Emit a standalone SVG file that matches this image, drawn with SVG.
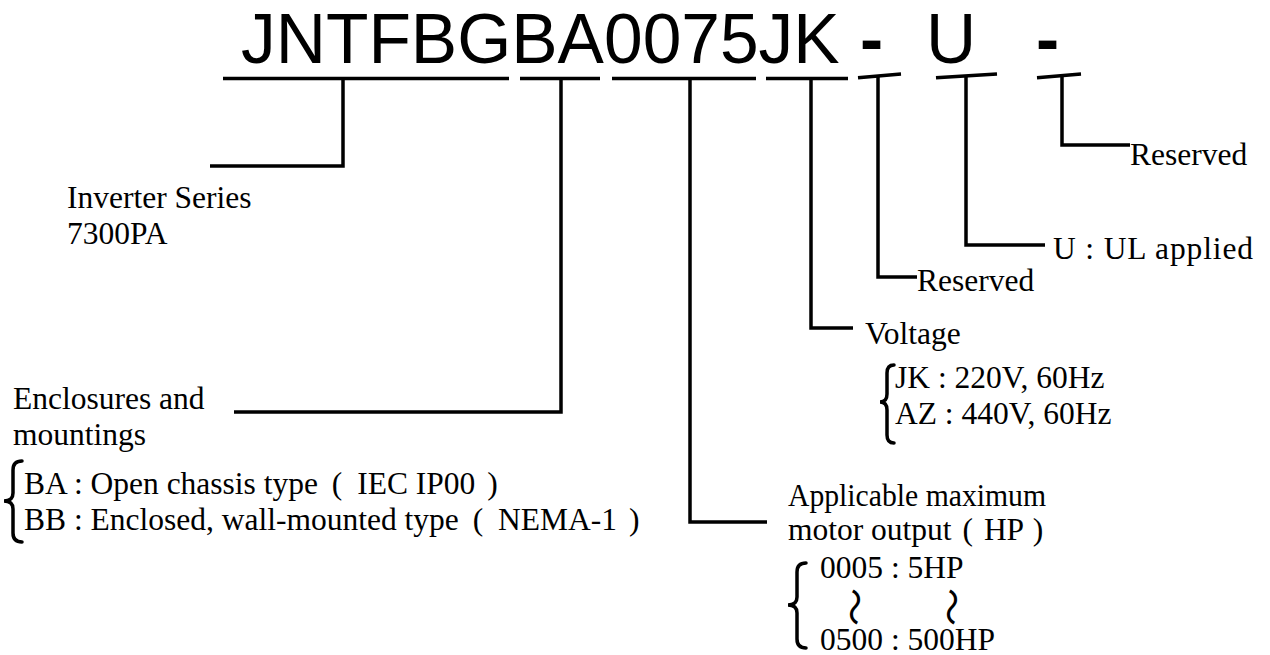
<svg xmlns="http://www.w3.org/2000/svg" width="1270" height="655" viewBox="0 0 1270 655">
<style>
.title{font-family:"Liberation Sans",Arial,sans-serif;font-size:69.5px;fill:#000}
.lbl{font-family:"Liberation Serif","Times New Roman",serif;font-size:31.5px;fill:#000}
.ln{fill:none;stroke:#000;stroke-width:3.5;stroke-linejoin:miter;stroke-linecap:butt}
.br{fill:none;stroke:#000;stroke-width:3.5;stroke-linecap:round}
.wave{font-family:"Noto Sans CJK JP","DejaVu Sans",sans-serif;font-size:38px;fill:#000}
</style>
<rect width="1270" height="655" fill="#fff"/>
<g id="code">
<text class="title" x="241" y="63">JNTFBGBA0075JK</text>
<text class="title" x="860" y="63" font-weight="bold">-</text>
<text class="title" x="926" y="63">U</text>
<text class="title" x="1036" y="63" font-weight="bold">-</text>
</g>
<g id="connectors">
<line class="ln" x1="223" y1="78.5" x2="509" y2="78.5"/>
<line class="ln" x1="520" y1="78.5" x2="600" y2="78.5"/>
<line class="ln" x1="612" y1="78.5" x2="756" y2="78.5"/>
<line class="ln" x1="766" y1="78.5" x2="848" y2="78.5"/>
<line class="ln" x1="858" y1="77.7" x2="901" y2="74"/>
<line class="ln" x1="936" y1="77.7" x2="997" y2="74"/>
<line class="ln" x1="1037" y1="77.7" x2="1081" y2="74"/>
<polyline class="ln" points="343,78.5 343,166 210,166"/>
<polyline class="ln" points="561,78.5 561,412 234,412"/>
<polyline class="ln" points="690,78.5 690,522 767,522"/>
<polyline class="ln" points="811,78.5 811,328 853,328"/>
<polyline class="ln" points="878,76 878,277 917,277"/>
<polyline class="ln" points="966,76 966,245 1045,245"/>
<polyline class="ln" points="1062,75.6 1062,145 1130,145"/>
</g>
<g id="series">
<text class="lbl" x="67" y="208">Inverter Series</text>
<text class="lbl" x="67" y="244">7300PA</text>
</g>
<g id="enclosure">
<text class="lbl" x="13" y="409">Enclosures and</text>
<text class="lbl" x="13" y="445">mountings</text>
<path class="br" d="M22,461 Q13,461 13,470 L13,493 Q13,501 4,501 Q13,501 13,509 L13,533 Q13,542 22,542"/>
<text class="lbl" x="24" y="494">BA : Open chassis type <tspan dx="6">(</tspan> <tspan dx="7">IEC IP00</tspan> <tspan dx="4">)</tspan></text>
<text class="lbl" x="24" y="530">BB : Enclosed, wall-mounted type <tspan dx="6">(</tspan> <tspan dx="7">NEMA-1</tspan> <tspan dx="4">)</tspan></text>
</g>
<g id="output">
<text class="lbl" x="788" y="506" textLength="258" lengthAdjust="spacingAndGlyphs">Applicable maximum</text>
<text class="lbl" x="788" y="540">motor output <tspan dx="3">(</tspan> <tspan dx="3">HP</tspan> <tspan dx="2">)</tspan></text>
<path class="br" d="M806,563 Q797,563 797,572 L797,597 Q797,605 788,605 Q797,605 797,613 L797,639 Q797,648 806,648"/>
<text class="lbl" x="820" y="578">0005 : 5HP</text>
<text class="wave" transform="translate(841,588) rotate(90)">〜</text>
<text class="wave" transform="translate(938,588) rotate(90)">〜</text>
<text class="lbl" x="820" y="650">0500 : 500HP</text>
</g>
<g id="voltage">
<text class="lbl" x="865" y="344">Voltage</text>
<path class="br" d="M894,365 Q887,365 887,373 L887,394 Q887,402 880,402 Q887,402 887,410 L887,435 Q887,443 894,443"/>
<text class="lbl" x="895" y="388">JK : 220V, 60Hz</text>
<text class="lbl" x="895" y="424">AZ : 440V, 60Hz</text>
</g>
<g id="reserved1">
<text class="lbl" x="917" y="291">Reserved</text>
</g>
<g id="ul">
<text class="lbl" x="1053" y="259" textLength="200" lengthAdjust="spacing">U : UL applied</text>
</g>
<g id="reserved2">
<text class="lbl" x="1130" y="165">Reserved</text>
</g>
</svg>
